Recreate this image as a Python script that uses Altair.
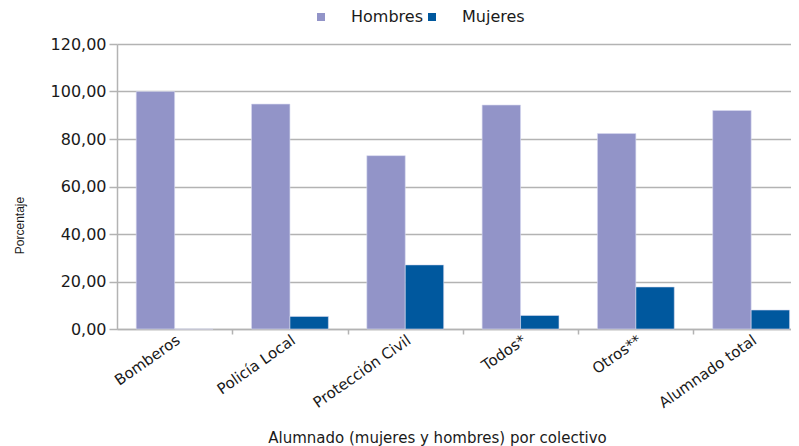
import altair as alt
import pandas as pd

categorias = ["Bomberos", "Policía Local", "Protección Civil", "Todos*", "Otros**", "Alumnado total"]
hombres = [100.0, 94.7, 73.0, 94.3, 82.3, 92.0]
mujeres = [0.0, 5.3, 27.0, 5.7, 17.7, 8.0]
series = ["Hombres", "Mujeres"]
colores = ["#9294c8", "#00589e"]
y_ticks = [0, 20, 40, 60, 80, 100, 120]

rows = []
for c, h, m in zip(categorias, hombres, mujeres):
    rows.append({"colectivo": c, "sexo": "Hombres", "valor": h})
    rows.append({"colectivo": c, "sexo": "Mujeres", "valor": m})
df = pd.DataFrame(rows)

FONT = "DejaVu Sans"
TXT = "#1a1a1a"
GRID = "#b3b3b3"

chart = alt.Chart(df).mark_bar(stroke="#d8daf0", strokeWidth=0.6).encode(
    x=alt.X(
        "colectivo:N",
        sort=categorias,
        scale=alt.Scale(paddingInner=1/3, paddingOuter=0.0894, align=0.932),
        axis=alt.Axis(
            title="Alumnado (mujeres y hombres) por colectivo",
            titleFont=FONT, titleFontSize=15, titleFontWeight="normal", titleColor=TXT,
            titleX=320, titleY=108, titleAnchor="middle", titleAlign="center", titleBaseline="middle",
            labelFont=FONT, labelFontSize=15, labelColor=TXT,
            labelAngle=-35, labelAlign="right", labelBaseline="middle", labelPadding=4,
            labelLimit=300, labelOffset=-16,
            bandPosition=1, tickExtra=False, tickOffset=19.2,
            tickSize=5, tickColor=GRID, tickWidth=1.5,
            domainColor=GRID, domainWidth=1.5, grid=False,
        ),
    ),
    xOffset=alt.XOffset("sexo:N", sort=series, scale=alt.Scale(paddingInner=0, paddingOuter=0)),
    y=alt.Y(
        "valor:Q",
        scale=alt.Scale(domain=[0, 120], nice=False),
        axis=alt.Axis(
            values=y_ticks,
            labelExpr="replace(format(datum.value, '.2f'), '.', ',')",
            title="Porcentaje",
            titleFont="Liberation Sans", titleFontSize=12, titleFontWeight="normal", titleColor=TXT,
            titleAngle=270, titleX=-98, titleY=181, titleAlign="center", titleBaseline="middle",
            labelFont=FONT, labelFontSize=16, labelColor=TXT, labelPadding=3,
            tickSize=8, tickColor=GRID, tickWidth=1.5,
            domainColor=GRID, domainWidth=1.5,
            grid=True, gridColor=GRID, gridWidth=1.5,
        ),
    ),
    color=alt.Color(
        "sexo:N",
        sort=series,
        scale=alt.Scale(domain=series, range=colores),
        legend=alt.Legend(
            title=None, orient="none", direction="horizontal",
            legendX=196, legendY=-35, padding=0,
            symbolType="square", symbolSize=64, symbolStrokeWidth=0,
            labelFont=FONT, labelFontSize=16, labelColor=TXT,
            labelOffset=22, columnPadding=1, labelLimit=200,
        ),
    ),
).properties(
    width=674,
    height=285,
    autosize=alt.AutoSizeParams(type="none"),
    padding={"left": 109, "top": 36, "right": 0, "bottom": 117},
).configure_view(stroke=None)

chart.save("out.html", embed_options={"renderer": "svg", "actions": False})
